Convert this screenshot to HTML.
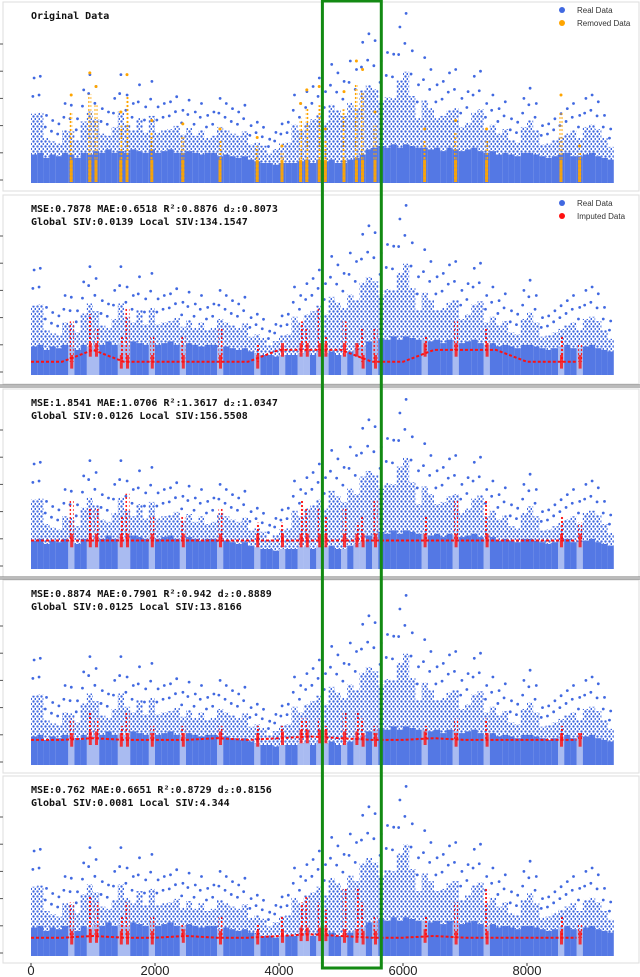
<!DOCTYPE html>
<html><head><meta charset="utf-8">
<style>
html,body{margin:0;padding:0;background:#fff;}
svg{display:block;}
.t{font-family:"DejaVu Sans Mono","Liberation Mono",monospace;font-weight:bold;font-size:10px;fill:#111;}
.lg{font-family:"Liberation Sans",sans-serif;font-size:8px;fill:#333;}
.tk{font-family:"Liberation Sans",sans-serif;font-size:13px;fill:#222;}
</style></head>
<body>
<svg id="chart" width="640" height="977" viewBox="0 0 640 977" xmlns="http://www.w3.org/2000/svg">
<defs>
<pattern id="pb" width="4" height="5" patternUnits="userSpaceOnUse"><circle cx="1.5" cy="1.5" r="1.2" fill="#4169e1"/><circle cx="3.5" cy="4" r="1.1" fill="#4169e1"/></pattern>
<pattern id="pr" width="4" height="4" patternUnits="userSpaceOnUse"><circle cx="2" cy="2" r="1.15" fill="#ff1010"/></pattern>
<pattern id="po" width="3" height="4" patternUnits="userSpaceOnUse"><circle cx="1.5" cy="2" r="1.15" fill="#ffa500"/></pattern>
</defs>
<g id="plots"></g>
<g id="overlay"></g>
</svg>
<script>
// ---- data (bins of 100 time steps, values in data units) ----
const binStarts = [0,100,200,300,400,500,600,700,800,900,1000,1100,1200,1300,1400,1500,1600,1700,1800,1900,2000,2100,2200,2300,2400,2500,2600,2700,2800,2900,3000,3100,3200,3300,3400,3500,3600,3700,3800,3900,4000,4100,4200,4300,4400,4500,4600,4700,4800,4900,5000,5100,5200,5300,5400,5500,5600,5700,5800,5900,6000,6100,6200,6300,6400,6500,6600,6700,6800,6900,7000,7100,7200,7300,7400,7500,7600,7700,7800,7900,8000,8100,8200,8300,8400,8500,8600,8700,8800,8900,9000,9100,9200,9300];
const realCore = [1.5,1.6,1.3,1.5,1.4,1.6,1.5,1.3,1.6,1.5,1.7,1.6,1.8,1.6,1.7,1.6,1.8,1.7,1.6,1.8,1.6,1.7,1.8,1.6,1.6,1.7,1.6,1.5,1.6,1.6,1.4,1.5,1.4,1.3,1.4,1.2,1.1,1.0,1.0,0.9,1.0,1.0,1.0,1.1,1.2,1.0,1.2,1.1,1.2,1.0,1.0,1.2,1.3,1.5,1.8,1.9,2.0,1.9,2.1,1.9,2.1,2.0,1.9,1.9,1.8,1.9,1.7,1.9,1.8,1.7,1.8,1.9,1.7,1.6,1.7,1.5,1.6,1.5,1.4,1.6,1.6,1.5,1.4,1.3,1.4,1.5,1.6,1.4,1.4,1.5,1.6,1.4,1.3,1.2];
const realPeak = [6.0,6.1,3.8,3.5,3.3,4.5,4.4,3.6,5.3,6.2,5.5,4.2,4.0,4.8,6.2,5.0,4.5,5.6,4.3,5.8,4.3,4.5,4.6,4.9,4.1,4.7,4.0,4.5,3.8,4.0,4.8,4.5,4.2,4.0,4.4,3.2,3.4,3.1,2.4,2.8,3.3,3.4,5.0,4.5,5.2,5.5,6.0,5.2,6.8,6.3,5.8,7.0,6.5,8.1,8.6,8.2,7.0,7.5,7.4,9.0,9.8,7.6,5.6,7.2,6.5,5.6,5.8,6.3,6.5,4.8,5.2,6.1,6.4,4.5,5.0,4.2,4.6,3.6,3.4,4.8,5.4,4.5,3.2,3.3,3.6,3.9,4.2,4.5,3.8,4.8,5.0,4.6,3.8,3.0];
const removedAt = [600,900,1000,1400,1500,1900,2400,3000,3600,4000,4300,4400,4600,4700,5000,5200,5300,5500,6300,6800,7300,8500,8800];
const removedVal = [5.0,6.3,5.5,4.0,6.2,3.5,3.3,3.0,2.5,2.0,4.5,5.3,5.5,3.0,5.2,7.0,6.5,4.0,3.0,3.5,3.0,5.0,2.0];
const levelTicks = [0,500,1000,1500,2000,2500,3000,3500,4000,4500,5000,5500,6000,6500,7000,7500,8000,8500,9000];
const levelP2 = [0.6,0.6,1.3,0.6,0.6,0.6,0.6,0.6,1.3,1.3,1.3,0.6,0.6,1.3,1.3,1.3,0.6,0.6,0.6];
const levelP3 = [1.5,1.5,1.5,1.5,1.5,1.5,1.5,1.5,1.5,1.5,1.5,1.5,1.5,1.5,1.5,1.5,1.5,1.5,1.5];
const levelP4 = [1.3,1.3,1.4,1.3,1.3,1.3,1.4,1.3,1.4,1.5,1.4,1.3,1.3,1.4,1.3,1.3,1.3,1.3,1.3];
const levelP5 = [0.9,0.9,1.0,0.9,0.9,1.0,0.9,0.9,1.0,1.1,1.0,0.9,0.9,1.0,0.9,0.9,0.9,0.9,0.9];
const imputedP2 = [3.5,4.0,3.0,2.5,4.5,2.5,2.5,3.0,2.0,1.5,3.5,3.0,4.5,2.5,3.5,2.0,3.0,3.0,2.5,3.5,3.0,2.5,2.0];
const imputedP3 = [4.5,4.0,4.0,3.5,5.0,3.5,3.5,4.0,3.0,3.0,4.5,4.0,4.0,3.5,4.0,3.0,3.5,4.5,3.5,4.5,4.5,3.5,3.0];
const imputedP4 = [3.0,3.5,3.0,2.5,3.5,2.5,2.5,2.5,2.5,2.5,3.0,3.0,3.0,2.5,3.5,3.5,3.0,2.5,2.5,3.0,3.0,2.5,2.0];
const imputedP5 = [3.5,4.0,3.5,2.5,3.5,2.5,2.0,2.5,2.0,2.5,3.5,4.0,3.5,3.0,4.5,4.5,3.5,2.5,2.5,3.5,4.5,2.5,2.0];
const xTicks = [0,2000,4000,6000,8000];
const titles = [
  ["Original Data"],
  ["MSE:0.7878 MAE:0.6518 R²:0.8876 d₂:0.8073","Global SIV:0.0139 Local SIV:134.1547"],
  ["MSE:1.8541 MAE:1.0706 R²:1.3617 d₂:1.0347","Global SIV:0.0126 Local SIV:156.5508"],
  ["MSE:0.8874 MAE:0.7901 R²:0.942 d₂:0.8889","Global SIV:0.0125 Local SIV:13.8166"],
  ["MSE:0.762 MAE:0.6651 R²:0.8729 d₂:0.8156","Global SIV:0.0081 Local SIV:4.344"]
];
const levels = [null, levelP2, levelP3, levelP4, levelP5];
const imputed = [null, imputedP2, imputedP3, imputedP4, imputedP5];

// ---- layout ----
const panels = [{top:2,bot:191,base:180},{top:195,bot:384,base:372},{top:389,bot:577,base:566},{top:580,bot:773,base:762},{top:776,bot:963,base:953}];
const S = 17;
const xs = v => 31 + v*0.062;
const NS = "http://www.w3.org/2000/svg";
function mk(tag, attrs, parent){const e=document.createElementNS(NS,tag);for(const k in attrs)e.setAttribute(k,attrs[k]);parent.appendChild(e);return e;}
const root = document.getElementById('plots');

panels.forEach((p,pi)=>{
  const g = mk('g',{},root);
  
  
  const ys = v => p.base - v*S;
  const fr = mk('rect',{x:3,y:p.top,width:636,height:p.bot-p.top,fill:'none',stroke:'#ddd','stroke-width':1},g);
  
  
  for(let k=0;k<6;k++){const tk=mk('line',{x1:0,x2:3,y1:p.base-k*1.6*S,y2:p.base-k*1.6*S,stroke:'#555','stroke-width':1},g);
    
    }
  binStarts.forEach((b,i)=>{
    const isRem = removedAt.indexOf(b)>=0;
    const x0 = xs(b), w = xs(b+100)-x0;
    const top = realPeak[i]*0.65;
    const sp = mk('rect',{x:x0,y:ys(top),width:w,height:Math.max(0,(top-realCore[i])*S),fill:'url(#pb)'},g);
    
    
    const c = mk('rect',{x:x0,y:ys(realCore[i]),width:w,height:realCore[i]*S+3,fill:'#4169e1',opacity:(pi>0&&isRem)?0.45:0.9},g);
    
    
    const d = mk('circle',{cx:x0+w/2,cy:ys(realPeak[i]),r:1.4,fill:'#4169e1'},g);
    
    
    const d2 = mk('circle',{cx:x0+w*0.3,cy:ys(realPeak[i]*0.82),r:1.4,fill:'#4169e1'},g);
    
    
  });
  if(pi===0){
    removedAt.forEach((b,i)=>{
      const x0 = xs(b)+1.5;
      const o = mk('rect',{x:x0,y:ys(removedVal[i]*0.8),width:3,height:removedVal[i]*0.8*S+2,fill:'url(#po)'},g);
      
      
      const oc = mk('rect',{x:x0,y:ys(1.2),width:3,height:1.2*S+2,fill:'#ffa500',opacity:0.9},g);
      
      
      const od = mk('circle',{cx:x0+1.5,cy:ys(removedVal[i]),r:1.5,fill:'#ffa500'},g);
      
      
    });
  } else {
    const lv = levels[pi], im = imputed[pi];
    const pts = levelTicks.slice(0,18).map((t,k)=>xs(t)+','+ys(lv[k])).join(' ');
    const ln = mk('polyline',{points:pts+' '+xs(8800)+','+ys(lv[17]),fill:'none',stroke:'#ff1010','stroke-width':2,'stroke-dasharray':'3 2'},g);
    
    
    removedAt.forEach((b,i)=>{
      const x0 = xs(b)+1.5;
      const lvl = lv[Math.min(18,Math.round(b/500))];
      const r = mk('rect',{x:x0,y:ys(im[i]*0.85),width:4,height:Math.max(0,(im[i]*0.85-lvl)*S),fill:'url(#pr)'},g);
      
      
      const rc = mk('rect',{x:x0+0.5,y:ys(lvl+0.4),width:3,height:0.8*S,fill:'#ff1010',opacity:0.8},g);
      
      
    });
  }
  titles[pi].forEach((t,k)=>{
    const tx = mk('text',{x:31,y:p.top+17+k*13,class:'t'},g);
    tx.textContent = t;
    
    
  });
  if(pi<2){
    const lg = mk('g',{},g);
    
    
    const ly = p.top+8;
    mk('circle',{cx:562,cy:ly,r:3,fill:'#4169e1'},lg);
    const l1 = mk('text',{x:577,y:ly+3,class:'lg'},lg); l1.textContent='Real Data';
    
    
    mk('circle',{cx:562,cy:ly+13,r:3,fill:pi===0?'#ffa500':'#ff1010'},lg);
    const l2 = mk('text',{x:577,y:ly+16,class:'lg'},lg); l2.textContent=pi===0?'Removed Data':'Imputed Data';
    
    
  }
});
[385,387,577,579].forEach(y=>{const l=mk('line',{x1:0,x2:640,y1:y,y2:y,stroke:'#777','stroke-width':1},root);
  
  });
xTicks.forEach(t=>{
  const tl = mk('line',{x1:xs(t),x2:xs(t),y1:963,y2:966,stroke:'#333'},root);
  
  
  const tx = mk('text',{x:xs(t),y:975,'text-anchor':'middle',class:'tk'},root);
  tx.textContent = t;
  
  
});
const hb = mk('rect',{x:xs(4700),y:1,width:xs(5650)-xs(4700),height:967,fill:'none',stroke:'#138a13','stroke-width':3},document.getElementById('overlay'));


</script>
</body></html>
